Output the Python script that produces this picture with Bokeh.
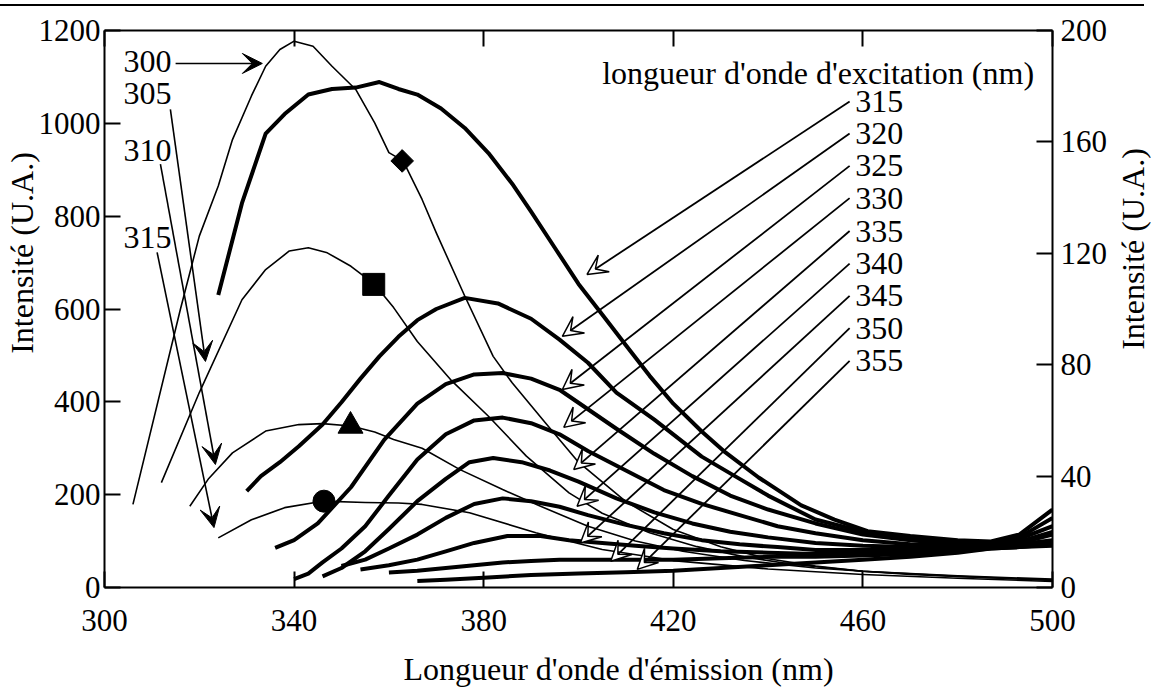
import math
from bokeh.plotting import figure
from bokeh.layouts import column, row
from bokeh.models import Range1d, LinearAxis, FixedTicker, Arrow, VeeHead, Div
from bokeh.core.properties import value
from bokeh.embed import file_html
from bokeh.resources import INLINE

FONT = "Liberation Serif"
FS = "31px"
FS_T = "32px"
NB = "\u00a0"

# ---------------- data ----------------
x_ticks = [300, 340, 380, 420, 460, 500]
left_ticks = [0, 200, 400, 600, 800, 1000, 1200]
right_ticks = [0, 40, 80, 120, 160, 200]

# thin curves, left axis (excitation 300, 305, 310, 315 nm)
w300 = [306, 316, 320, 324, 327, 331, 334, 337, 340, 344, 348, 353, 357, 360, 363, 367, 370, 376, 382, 386, 393, 400, 410, 420, 430, 440, 450, 460, 480, 500]
i300 = [179, 599, 757, 865, 965, 1059, 1123, 1159, 1177, 1166, 1123, 1073, 1001, 937, 919, 836, 764, 628, 498, 441, 355, 270, 185, 125, 88, 62, 46, 35, 24, 16]
w305 = [312, 320, 329, 334, 339, 343, 347, 352, 357, 361, 366, 373, 381, 389, 398, 405, 415, 425, 435, 445, 460, 480, 500]
i305 = [226, 420, 620, 685, 725, 732, 721, 692, 653, 603, 530, 448, 369, 283, 204, 160, 118, 88, 66, 50, 35, 25, 18]
w310 = [318, 322, 327, 334, 341, 346, 352, 357, 361, 367, 375, 384, 392, 402, 412, 422, 435, 450, 470, 500]
i310 = [175, 235, 290, 337, 351, 353, 348, 335, 319, 300, 254, 211, 175, 132, 100, 78, 58, 42, 28, 15]
w315 = [324, 331, 338, 346, 355, 362, 367, 377, 391, 405, 420, 440, 460, 480, 500]
i315 = [107, 146, 172, 186, 183, 182, 179, 161, 118, 82, 58, 40, 28, 20, 13]

thin_w = [w300, w305, w310, w315]
thin_i = [i300, i305, i310, i315]
marker_x = [362.8, 356.8, 351.9, 346.3]
marker_y = [919, 653, 348, 186]

# thick curves, right axis (excitation 315 ... 355 nm)
wt315 = [324, 329, 334, 338, 343, 348, 353, 358, 362, 366, 371, 376, 381, 386, 390, 395, 400, 405, 410, 415, 420, 426, 431, 438, 447, 454, 461, 470, 480, 487, 493, 500]
it315 = [105, 138, 163, 170, 177, 179, 179.5, 181.5, 179, 177, 172, 165, 156, 145, 135, 122, 109, 98, 87, 76, 66, 56, 48.5, 39.5, 29.5, 24.4, 20.2, 18.5, 17, 16.5, 19, 28]
wt320 = [330, 333, 337, 341, 346, 350, 354, 358, 362, 366, 370, 376, 383, 390, 396, 402, 408, 416, 426, 433, 440, 450, 461, 470, 480, 487, 493, 500]
it320 = [34.6, 40, 45, 50.7, 58.5, 66.5, 75, 83, 90, 96, 100, 104, 102, 96.5, 89, 80.7, 70, 60.3, 47, 40, 33, 24.4, 19.6, 17.5, 16, 16, 18, 25]
wt325 = [336, 340, 345, 352, 359, 366, 372, 378, 384, 390, 396, 402, 408, 416, 424, 432, 440, 450, 460, 470, 480, 487, 493, 500]
it325 = [14.2, 17, 23, 36, 53, 66, 73, 76.5, 77, 75, 71, 64, 57, 48, 40, 33, 28, 23, 19, 17, 15.5, 15.5, 17.5, 22]
wt330 = [340, 343, 346, 350, 355, 360, 366, 372, 378, 384, 390, 396, 402, 410, 418, 426, 434, 442, 450, 460, 470, 480, 487, 493, 500]
it330 = [3, 5, 9, 14, 22, 33, 46, 55, 60, 61, 59, 55, 49, 42, 35, 30, 26, 22, 19.5, 17, 15.5, 15, 15, 16.5, 20]
wt335 = [346, 350, 355, 360, 366, 372, 377, 382, 388, 394, 400, 408, 416, 424, 432, 440, 450, 460, 470, 480, 487, 493, 500]
it335 = [4, 7, 13, 21, 31, 39, 45, 46.5, 45, 42, 38, 32, 27, 23, 20, 18, 16, 15, 14.5, 14, 15, 16, 19]
wt340 = [350, 355, 360, 366, 372, 378, 384, 390, 396, 402, 410, 418, 426, 434, 442, 450, 460, 470, 480, 487, 493, 500]
it340 = [7.7, 10, 14, 19, 25, 30, 32, 31, 29, 26, 22.5, 19.5, 17, 15.5, 14.5, 13.5, 13.5, 13.5, 14, 15, 15.5, 17]
wt345 = [354, 360, 366, 372, 378, 385, 392, 398, 405, 412, 420, 430, 440, 450, 460, 470, 480, 487, 493, 500]
it345 = [6.5, 8, 10, 13, 16, 18.5, 18.5, 17, 16, 15, 14, 13, 12.5, 12, 12.5, 13, 13.5, 14.5, 15, 16]
wt350 = [360, 366, 372, 378, 384, 390, 396, 402, 410, 420, 430, 440, 450, 460, 470, 480, 487, 493, 500]
it350 = [5.4, 6, 7, 8, 9, 9.5, 10, 10, 10, 10, 10.5, 11, 11, 11.5, 12, 13, 14, 14.5, 15.5]
wt355 = [366, 372, 380, 390, 400, 410, 420, 430, 440, 450, 460, 470, 480, 487, 493, 500]
it355 = [2.3, 2.8, 3.5, 4.5, 5, 5.5, 6, 7, 8, 9, 10, 11, 12.5, 14, 14.5, 15]

thick_w = [wt315, wt320, wt325, wt330, wt335, wt340, wt345, wt350, wt355]
thick_i = [it315, it320, it325, it330, it335, it340, it345, it350, it355]

# annotations
thin_labels = ["300", "305", "310", "315"]
thin_label_x = 304.0
thin_label_y = [1134, 1064, 941, 755]
thin_arrow_start = [(315.0, 1129), (313.9, 1030), (311.8, 912), (311.1, 722)]
thin_arrow_end = [(333.3, 1129), (321.3, 487), (323.4, 265), (323.1, 129)]

thick_labels = ["315", "320", "325", "330", "335", "340", "345", "350", "355"]
thick_label_x = 458.4
thick_label_y = [174.5, 163.0, 151.4, 139.8, 128.0, 116.3, 104.7, 93.1, 81.4]
thick_arrow_x0 = 457.2
thick_arrow_end = [(401.8, 112.4), (396.6, 90.2), (396.6, 71.1), (396.9, 57.5), (399.0, 42.4),
                   (399.7, 29.2), (400.4, 16.0), (406.8, 9.4), (412.4, 6.5)]

title_text = "longueur d'onde d'excitation (nm)"
title_x = 405.0
title_y = 1109

# ---------------- main figure ----------------
p = figure(frame_width=948, frame_height=557,
           x_range=Range1d(300, 500), y_range=Range1d(0, 1200),
           output_backend="svg", toolbar_location=None,
           min_border_left=96, min_border_right=56, min_border_top=24, min_border_bottom=98)
p.extra_y_ranges = {"right": Range1d(0, 200)}
p.xgrid.visible = False
p.ygrid.visible = False
p.outline_line_color = None
p.background_fill_color = "white"
p.border_fill_color = "white"


def style(ax, ticks):
    ax.ticker = FixedTicker(ticks=ticks)
    ax.major_tick_in = 16
    ax.major_tick_out = 0
    ax.minor_tick_line_color = None
    ax.axis_line_width = 2
    ax.axis_line_color = "black"
    ax.major_tick_line_width = 2
    ax.major_tick_line_color = "black"
    ax.major_label_text_font = FONT
    ax.major_label_text_font_size = FS
    ax.major_label_text_color = "black"
    ax.axis_label_text_font = FONT
    ax.axis_label_text_font_size = FS_T
    ax.axis_label_text_font_style = "normal"
    ax.axis_label_text_color = "black"


xa = p.xaxis[0]
style(xa, x_ticks)
xa.axis_label = NB * 10 + "Longueur d'onde d'émission (nm)"
xa.major_label_standoff = 22
xa.axis_label_standoff = 17

ya = p.yaxis[0]
style(ya, left_ticks)
ya.axis_label = NB * 14 + "Intensité (U.A.)"
ya.major_label_standoff = 4
ya.axis_label_standoff = -4

top = LinearAxis()
style(top, x_ticks)
top.major_label_text_font_size = "1px"
top.major_label_text_color = None
top.major_label_standoff = 0
p.add_layout(top, "above")

ra = LinearAxis(y_range_name="right")
style(ra, right_ticks)
ra.major_label_standoff = 8
p.add_layout(ra, "right")

# thin curves
for w, i in zip(thin_w, thin_i):
    p.line(w, i, line_width=1.6, color="black", line_join="round")

p.scatter([marker_x[0]], [marker_y[0]], marker="square", angle=math.pi / 4, size=16, color="black")
p.scatter([marker_x[1]], [marker_y[1]], marker="square", size=22, color="black")
p.scatter([marker_x[2]], [marker_y[2]], marker="triangle", size=25, color="black")
p.scatter([marker_x[3]], [marker_y[3]], marker="circle", size=22, color="black")

# thick curves
for w, i in zip(thick_w, thick_i):
    p.line(w, i, line_width=4, color="black", line_join="round", y_range_name="right")

# labels
p.text(x=[thin_label_x] * 4, y=thin_label_y, text=thin_labels, text_font=value(FONT),
       text_font_size=FS_T, text_baseline="middle", text_align="left", color="black")
p.text(x=[title_x], y=[title_y], text=[title_text], text_font=value(FONT),
       text_font_size=FS_T, text_baseline="middle", text_align="left", color="black")
p.text(x=[thick_label_x] * len(thick_labels), y=thick_label_y, text=thick_labels,
       text_font=value(FONT), text_font_size=FS_T, text_baseline="middle", text_align="left",
       color="black", y_range_name="right")

for (xs, ys), (xe, ye) in zip(thin_arrow_start, thin_arrow_end):
    p.add_layout(Arrow(end=VeeHead(size=20, fill_color="black", line_color="black"),
                       x_start=xs, y_start=ys, x_end=xe, y_end=ye,
                       line_width=1.6, line_color="black"))

for ys, (xe, ye) in zip(thick_label_y, thick_arrow_end):
    p.add_layout(Arrow(end=VeeHead(size=20, fill_color="white", line_color="black", line_width=1.5),
                       x_start=thick_arrow_x0, y_start=ys, x_end=xe, y_end=ye,
                       line_width=1.8, line_color="black", y_range_name="right"))

# ---------------- narrow strip carrying the right-hand axis title ----------------
p2 = figure(frame_width=1, frame_height=557, x_range=Range1d(0, 1), y_range=Range1d(0, 1),
            output_backend="svg", toolbar_location=None, x_axis_location=None,
            min_border_left=40, min_border_right=0, min_border_top=24, min_border_bottom=98)
p2.xgrid.visible = False
p2.ygrid.visible = False
p2.outline_line_color = None
p2.border_fill_color = "white"
p2.background_fill_color = "white"
a2 = p2.yaxis[0]
a2.ticker = FixedTicker(ticks=[])
a2.axis_line_color = None
a2.major_tick_line_color = None
a2.minor_tick_line_color = None
a2.major_label_text_color = None
a2.major_label_text_font_size = "1px"
a2.major_label_standoff = 0
a2.major_tick_out = 0
a2.major_tick_in = 0
a2.axis_label = NB * 15 + "Intensité (U.A.)"
a2.axis_label_standoff = 0
a2.axis_label_text_font = FONT
a2.axis_label_text_font_size = FS_T
a2.axis_label_text_font_style = "normal"
a2.axis_label_text_color = "black"

rule = Div(text="", width=1144, height=2, margin=(4, 0, 0, 0),
           styles={"background-color": "black"})
layout = column(rule, row(p, p2, spacing=0), spacing=0)

open("out.html", "w").write(file_html(layout, INLINE))
